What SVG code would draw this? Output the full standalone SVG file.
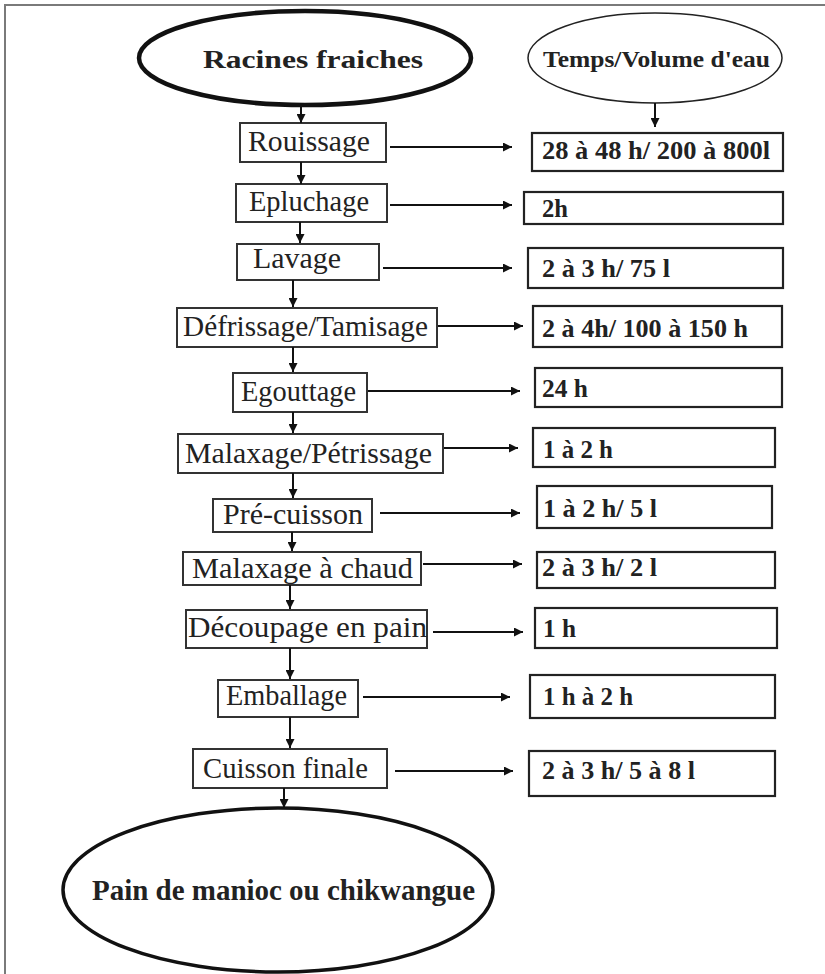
<svg xmlns="http://www.w3.org/2000/svg" width="825" height="974" viewBox="0 0 825 974">
<style>
.frame{fill:none;stroke:#7a7a7a;stroke-width:2}
.box{fill:#fff;stroke:#333;stroke-width:2}
.rbox{fill:#fff;stroke:#222;stroke-width:2.2}
.lbl{font-family:"Liberation Serif","Times New Roman",serif;font-size:29px;fill:#222}
.val{font-family:"Liberation Serif","Times New Roman",serif;font-weight:bold;font-size:25px;fill:#222}
.big{font-family:"Liberation Serif","Times New Roman",serif;font-weight:bold;fill:#222}
.con{stroke:#111;stroke-width:2;fill:none;marker-end:url(#ah)}
</style>
<defs>
<marker id="ah" viewBox="0 0 10 10" refX="10" refY="5" markerWidth="9" markerHeight="9" markerUnits="userSpaceOnUse" orient="auto">
<path d="M0,0 L10,5 L0,10 z" fill="#111"/>
</marker>
</defs>
<rect width="825" height="974" fill="#fff"/>
<rect class="frame" x="5" y="5" width="830" height="980"/>

<g id="racines">
<ellipse cx="305" cy="58" rx="166" ry="47" fill="#fff" stroke="#111" stroke-width="4.5"/>
<text class="big" x="203" y="68" font-size="26" textLength="220" lengthAdjust="spacingAndGlyphs">Racines fraiches</text>
</g>
<g id="temps">
<ellipse cx="655" cy="58" rx="127" ry="45" fill="#fff" stroke="#222" stroke-width="1.5"/>
<text class="big" x="543" y="67" font-size="23" textLength="227" lengthAdjust="spacingAndGlyphs">Temps/Volume d'eau</text>
</g>

<g id="rouissage"><rect class="box" x="240" y="123" width="146" height="39"/><text class="lbl" x="248" y="151" textLength="122" lengthAdjust="spacingAndGlyphs">Rouissage</text></g>
<g id="epluchage"><rect class="box" x="236" y="184" width="151" height="38"/><text class="lbl" x="249" y="211" textLength="120" lengthAdjust="spacingAndGlyphs">Epluchage</text></g>
<g id="lavage"><rect class="box" x="237" y="244" width="142" height="36"/><text class="lbl" x="253" y="268" textLength="88" lengthAdjust="spacingAndGlyphs">Lavage</text></g>
<g id="defrissage"><rect class="box" x="177" y="308" width="260" height="39"/><text class="lbl" x="183" y="336" textLength="245" lengthAdjust="spacingAndGlyphs">Défrissage/Tamisage</text></g>
<g id="egouttage"><rect class="box" x="233" y="373" width="134" height="39"/><text class="lbl" x="241" y="401" textLength="115" lengthAdjust="spacingAndGlyphs">Egouttage</text></g>
<g id="malaxage"><rect class="box" x="178" y="434" width="265" height="39"/><text class="lbl" x="185" y="463" textLength="247" lengthAdjust="spacingAndGlyphs">Malaxage/Pétrissage</text></g>
<g id="precuisson"><rect class="box" x="213" y="499" width="159" height="33"/><text class="lbl" x="223" y="524" textLength="140" lengthAdjust="spacingAndGlyphs">Pré-cuisson</text></g>
<g id="malaxagechaud"><rect class="box" x="183" y="552" width="238" height="33"/><text class="lbl" x="192" y="578" textLength="221" lengthAdjust="spacingAndGlyphs">Malaxage à chaud</text></g>
<g id="decoupage"><rect class="box" x="186" y="610" width="241" height="38"/><text class="lbl" x="188" y="637" textLength="239" lengthAdjust="spacingAndGlyphs">Découpage en pain</text></g>
<g id="emballage"><rect class="box" x="218" y="680" width="140" height="37"/><text class="lbl" x="226" y="705" textLength="121" lengthAdjust="spacingAndGlyphs">Emballage</text></g>
<g id="cuisson"><rect class="box" x="193" y="749" width="194" height="39"/><text class="lbl" x="203" y="778" textLength="165" lengthAdjust="spacingAndGlyphs">Cuisson finale</text></g>

<g id="pain">
<ellipse cx="278" cy="890" rx="215" ry="82" fill="#fff" stroke="#111" stroke-width="3.5"/>
<text class="big" x="92" y="900" font-size="29" textLength="383" lengthAdjust="spacingAndGlyphs">Pain de manioc ou chikwangue</text>
</g>

<g id="v1"><rect class="rbox" x="532" y="133" width="251" height="38"/><text class="val" x="542" y="159" textLength="228" lengthAdjust="spacingAndGlyphs">28 à 48 h/ 200 à 800l</text></g>
<g id="v2"><rect class="rbox" x="524" y="192" width="259" height="32"/><text class="val" x="542" y="217" textLength="26" lengthAdjust="spacingAndGlyphs">2h</text></g>
<g id="v3"><rect class="rbox" x="528" y="248" width="255" height="40"/><text class="val" x="542" y="277" textLength="128" lengthAdjust="spacingAndGlyphs">2 à 3 h/ 75 l</text></g>
<g id="v4"><rect class="rbox" x="533" y="306" width="249" height="41"/><text class="val" x="542" y="337" textLength="206" lengthAdjust="spacingAndGlyphs">2 à 4h/ 100 à 150 h</text></g>
<g id="v5"><rect class="rbox" x="535" y="368" width="247" height="39"/><text class="val" x="542" y="397" textLength="46" lengthAdjust="spacingAndGlyphs">24 h</text></g>
<g id="v6"><rect class="rbox" x="533" y="428" width="242" height="39"/><text class="val" x="543" y="458" textLength="70" lengthAdjust="spacingAndGlyphs">1 à 2 h</text></g>
<g id="v7"><rect class="rbox" x="537" y="486" width="235" height="42"/><text class="val" x="543" y="517" textLength="114" lengthAdjust="spacingAndGlyphs">1 à 2 h/ 5 l</text></g>
<g id="v8"><rect class="rbox" x="537" y="552" width="238" height="36"/><text class="val" x="542" y="576" textLength="115" lengthAdjust="spacingAndGlyphs">2 à 3 h/ 2 l</text></g>
<g id="v9"><rect class="rbox" x="535" y="608" width="242" height="40"/><text class="val" x="543" y="637" textLength="33" lengthAdjust="spacingAndGlyphs">1 h</text></g>
<g id="v10"><rect class="rbox" x="530" y="675" width="245" height="43"/><text class="val" x="543" y="705" textLength="90" lengthAdjust="spacingAndGlyphs">1 h à 2 h</text></g>
<g id="v11"><rect class="rbox" x="529" y="751" width="246" height="45"/><text class="val" x="542" y="779" textLength="153" lengthAdjust="spacingAndGlyphs">2 à 3 h/ 5 à 8 l</text></g>

<g id="connectors">
<line class="con" x1="301" y1="105" x2="301" y2="123"/>
<line class="con" x1="301" y1="162" x2="301" y2="184"/>
<line class="con" x1="300" y1="222" x2="300" y2="243"/>
<line class="con" x1="293" y1="280" x2="293" y2="307"/>
<line class="con" x1="293" y1="347" x2="293" y2="372"/>
<line class="con" x1="293" y1="412" x2="293" y2="433"/>
<line class="con" x1="293" y1="473" x2="293" y2="498"/>
<line class="con" x1="292" y1="532" x2="292" y2="551"/>
<line class="con" x1="290" y1="585" x2="290" y2="609"/>
<line class="con" x1="290" y1="648" x2="290" y2="679"/>
<line class="con" x1="290" y1="717" x2="290" y2="748"/>
<line class="con" x1="284" y1="788" x2="284" y2="808"/>
<line class="con" x1="655" y1="103" x2="655" y2="127"/>
<line class="con" x1="390" y1="147" x2="512" y2="147"/>
<line class="con" x1="390" y1="205" x2="512" y2="205"/>
<line class="con" x1="383" y1="268" x2="512" y2="268"/>
<line class="con" x1="438" y1="326" x2="523" y2="326"/>
<line class="con" x1="368" y1="391" x2="520" y2="391"/>
<line class="con" x1="444" y1="448" x2="518" y2="448"/>
<line class="con" x1="380" y1="513" x2="520" y2="513"/>
<line class="con" x1="423" y1="564" x2="522" y2="564"/>
<line class="con" x1="433" y1="632" x2="523" y2="632"/>
<line class="con" x1="363" y1="697" x2="510" y2="697"/>
<line class="con" x1="395" y1="771" x2="513" y2="771"/>
</g>
</svg>
